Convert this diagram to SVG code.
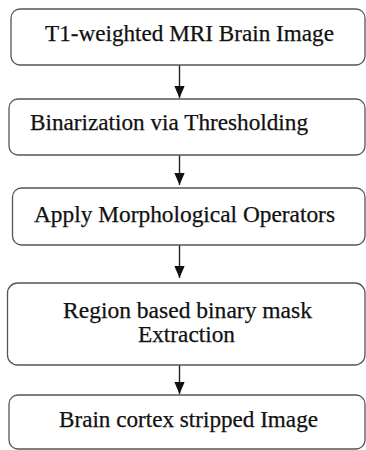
<svg xmlns="http://www.w3.org/2000/svg" width="366" height="450" viewBox="0 0 366 450">
<defs>
<marker id="ah" markerUnits="userSpaceOnUse" markerWidth="12" markerHeight="14" refX="14" refY="6" orient="auto" viewBox="0 0 14 12">
<path d="M0,0 L14,6 L0,12 Z" fill="#111"/>
</marker>
<style>
.box{fill:#fff;stroke:#555;stroke-width:1.3}
.t{font-family:"Liberation Serif","Times New Roman",serif;font-size:23px;fill:#111;stroke:#111;stroke-width:0.25}
.c{stroke:#222;stroke-width:1.4;fill:none}
</style>
</defs>
<rect width="366" height="450" fill="#fff"/>
<g id="connectors">
<line class="c" x1="179.5" y1="65" x2="179.5" y2="98" marker-end="url(#ah)"/>
<line class="c" x1="179.5" y1="155" x2="179.5" y2="185" marker-end="url(#ah)"/>
<line class="c" x1="179.5" y1="245" x2="179.5" y2="278" marker-end="url(#ah)"/>
<line class="c" x1="179.5" y1="365" x2="179.5" y2="394" marker-end="url(#ah)"/>
</g>
<g id="node1">
<rect class="box" x="11" y="9" width="354" height="56" rx="9"/>
<text class="t" x="45" y="40.5" textLength="289" lengthAdjust="spacingAndGlyphs">T1-weighted MRI Brain Image</text>
</g>
<g id="node2">
<rect class="box" x="9" y="99" width="356" height="56" rx="9"/>
<text class="t" x="30" y="129.5" textLength="278" lengthAdjust="spacingAndGlyphs">Binarization via Thresholding</text>
</g>
<g id="node3">
<rect class="box" x="12.5" y="188" width="352.5" height="57" rx="9"/>
<text class="t" x="34" y="221.5" textLength="301" lengthAdjust="spacingAndGlyphs">Apply Morphological Operators</text>
</g>
<g id="node4">
<rect class="box" x="7.5" y="283" width="357.5" height="82" rx="10"/>
<text class="t" x="63" y="318" textLength="249" lengthAdjust="spacingAndGlyphs">Region based binary mask</text>
<text class="t" x="138" y="342" textLength="97" lengthAdjust="spacingAndGlyphs">Extraction</text>
</g>
<g id="node5">
<rect class="box" x="9" y="395" width="356" height="54" rx="9"/>
<text class="t" x="59" y="427" textLength="259" lengthAdjust="spacingAndGlyphs">Brain cortex stripped Image</text>
</g>
</svg>
